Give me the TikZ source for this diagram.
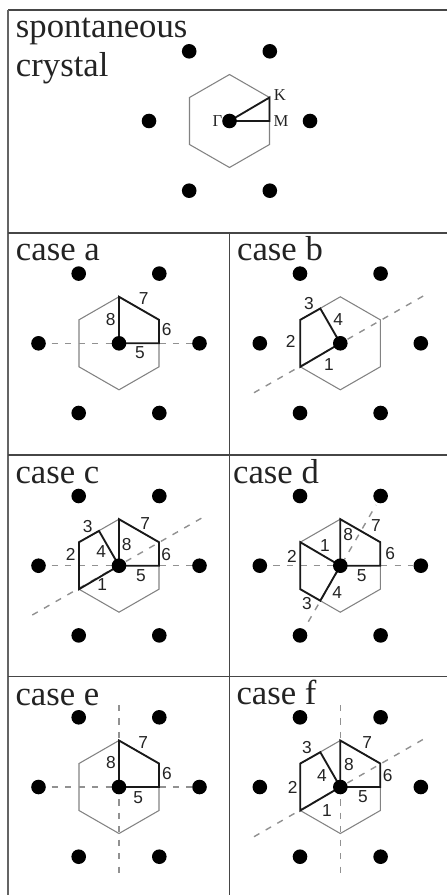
\documentclass[tikz,border=0pt]{standalone}
\usepackage{fontspec}
\setmainfont{Liberation Serif}
\setsansfont{Liberation Sans}
\tikzset{every picture/.style={line width=0.75pt}}
\tikzset{
  framerule/.style={color={rgb, 255:red, 70; green, 70; blue, 70 },line width=0.9pt},
  edgerule/.style={color={rgb, 255:red, 100; green, 100; blue, 100 },line width=1.3pt},
  zonerule/.style={color={rgb, 255:red, 130; green, 130; blue, 130 },line width=0.8pt},
  cutrule/.style={color={rgb, 255:red, 145; green, 145; blue, 145 },line width=1.05pt,dash pattern=on 4.7pt off 5.4pt},
  pathrule/.style={color={rgb, 255:red, 25; green, 25; blue, 25 },line width=1.4pt},
  latticedot/.style={fill=black},
  titlelabel/.style={anchor=base west,inner sep=0pt,color={rgb, 255:red, 35; green, 35; blue, 35 },font=\fontsize{26}{26}\selectfont},
  steplabel/.style={inner sep=0pt,color={rgb, 255:red, 35; green, 35; blue, 35 },font=\sffamily\fontsize{13}{13}\selectfont},
  pointlabel/.style={inner sep=0pt,color={rgb, 255:red, 35; green, 35; blue, 35 },font=\fontsize{12.5}{12.5}\selectfont}
}

\begin{document}
\begin{tikzpicture}[x=0.75pt,y=0.75pt,yscale=-1,xscale=1]
\useasboundingbox (0,0) rectangle (447,895);

%Frame lines
\draw [framerule]   (447,10) -- (8,10) ;
\draw [edgerule]   (8,10) -- (8,895) ;
\draw [framerule]   (8,233) -- (447,233) ;
\draw [framerule]   (8,455) -- (447,455) ;
\draw [framerule]   (8,676.5) -- (447,676.5) ;
\draw [framerule]   (229.3,233) -- (229.3,895) ;

%Spontaneous crystal
\draw [zonerule]   (229.5,74.5) -- (269.5,97.5) -- (269.5,144.5) -- (229.5,167.5) -- (189.5,144.5) -- (189.5,97.5) -- cycle ;
\draw [pathrule]   (229.5,121) -- (269.5,97.5) -- (269.5,121) -- cycle ;
\fill [latticedot] (229.5,121) circle (7.3) ;
\fill [latticedot] (189.2,51.3) circle (7.3) ;
\fill [latticedot] (269.8,51.3) circle (7.3) ;
\fill [latticedot] (149,121) circle (7.3) ;
\fill [latticedot] (310,121) circle (7.3) ;
\fill [latticedot] (189.2,190.7) circle (7.3) ;
\fill [latticedot] (269.8,190.7) circle (7.3) ;
% Text Node
\node [titlelabel] (spontaneous) at (15.5,38) {spontaneous};
% Text Node
\node [titlelabel] (crystal) at (15.5,77) {crystal};
% Text Node
\node [pointlabel] (gamma) at (217.5,121.5) {Γ};
% Text Node
\node [pointlabel] (kpoint) at (280,94.7) {K};
% Text Node
\node [pointlabel] (mpoint) at (281,121) {M};

%Case a
\draw [zonerule]   (119,296.8) -- (159,319.8) -- (159,366.8) -- (119,389.8) -- (79,366.8) -- (79,319.8) -- cycle ;
\draw [cutrule]   (51.7,343.3) -- (191.7,343.3) ;
\draw [pathrule]   (119,343.3) -- (119,296.8) -- (159,319.8) -- (159,343.3) -- cycle ;
\fill [latticedot] (119,343.3) circle (7.3) ;
\fill [latticedot] (78.7,273.6) circle (7.3) ;
\fill [latticedot] (159.3,273.6) circle (7.3) ;
\fill [latticedot] (38.5,343.3) circle (7.3) ;
\fill [latticedot] (199.5,343.3) circle (7.3) ;
\fill [latticedot] (78.7,413) circle (7.3) ;
\fill [latticedot] (159.3,413) circle (7.3) ;
% Text Node
\node [titlelabel] (casea) at (15.5,260.7) {case a};
% Text Node
\node [steplabel] (aeight) at (110.7,320) {8};
% Text Node
\node [steplabel] (aseven) at (143.7,299) {7};
% Text Node
\node [steplabel] (asix) at (166.7,330) {6};
% Text Node
\node [steplabel] (afive) at (140,352.3) {5};

%Case b
\draw [zonerule]   (340.3,296.8) -- (380.3,319.8) -- (380.3,366.8) -- (340.3,389.8) -- (300.3,366.8) -- (300.3,319.8) -- cycle ;
\draw [cutrule]   (254,392.7) -- (425,295) ;
\draw [pathrule]   (340.3,343.3) -- (300.3,366.8) -- (300.3,319.8) -- (320.3,308.5) -- cycle ;
\fill [latticedot] (340.3,343.3) circle (7.3) ;
\fill [latticedot] (300,273.6) circle (7.3) ;
\fill [latticedot] (380.6,273.6) circle (7.3) ;
\fill [latticedot] (259.8,343.3) circle (7.3) ;
\fill [latticedot] (420.8,343.3) circle (7.3) ;
\fill [latticedot] (300,413) circle (7.3) ;
\fill [latticedot] (380.6,413) circle (7.3) ;
% Text Node
\node [titlelabel] (caseb) at (236.7,260.7) {case b};
% Text Node
\node [steplabel] (bthree) at (309,303.7) {3};
% Text Node
\node [steplabel] (bfour) at (338.3,319.3) {4};
% Text Node
\node [steplabel] (btwo) at (290.7,341.7) {2};
% Text Node
\node [steplabel] (bone) at (329,364.3) {1};

%Case c
\draw [zonerule]   (119,519.2) -- (159,542.2) -- (159,589.2) -- (119,612.2) -- (79,589.2) -- (79,542.2) -- cycle ;
\draw [cutrule]   (51.7,565.7) -- (191.7,565.7) ;
\draw [cutrule]   (32.3,615) -- (204,516.7) ;
\draw [pathrule]   (119,565.7) -- (79,589.2) -- (79,542.2) -- (99,530.9) -- cycle ;
\draw [pathrule]   (119,565.7) -- (119,519.2) -- (159,542.2) -- (159,565.7) -- cycle ;
\fill [latticedot] (119,565.7) circle (7.3) ;
\fill [latticedot] (78.7,496) circle (7.3) ;
\fill [latticedot] (159.3,496) circle (7.3) ;
\fill [latticedot] (38.5,565.7) circle (7.3) ;
\fill [latticedot] (199.5,565.7) circle (7.3) ;
\fill [latticedot] (78.7,635.4) circle (7.3) ;
\fill [latticedot] (159.3,635.4) circle (7.3) ;
% Text Node
\node [titlelabel] (casec) at (15,483.3) {case c};
% Text Node
\node [steplabel] (cthree) at (87.7,526.7) {3};
% Text Node
\node [steplabel] (cseven) at (145.3,523.3) {7};
% Text Node
\node [steplabel] (ceight) at (126.7,544.3) {8};
% Text Node
\node [steplabel] (cfour) at (101.3,551.7) {4};
% Text Node
\node [steplabel] (ctwo) at (70.7,554.3) {2};
% Text Node
\node [steplabel] (csix) at (166.3,554.3) {6};
% Text Node
\node [steplabel] (cfive) at (141,575.7) {5};
% Text Node
\node [steplabel] (cone) at (102.3,585) {1};

%Case d
\draw [zonerule]   (340.3,519.2) -- (380.3,542.2) -- (380.3,589.2) -- (340.3,612.2) -- (300.3,589.2) -- (300.3,542.2) -- cycle ;
\draw [cutrule]   (273.3,565.7) -- (413.3,565.7) ;
\draw [cutrule]   (308.3,621.7) -- (376,505) ;
\draw [pathrule]   (340.3,565.7) -- (300.3,542.2) -- (300.3,589.2) -- (320.3,600.7) -- cycle ;
\draw [pathrule]   (340.3,565.7) -- (340.3,519.2) -- (380.3,542.2) -- (380.3,565.7) -- cycle ;
\fill [latticedot] (340.3,565.7) circle (7.3) ;
\fill [latticedot] (300,496) circle (7.3) ;
\fill [latticedot] (380.6,496) circle (7.3) ;
\fill [latticedot] (259.8,565.7) circle (7.3) ;
\fill [latticedot] (420.8,565.7) circle (7.3) ;
\fill [latticedot] (300,635.4) circle (7.3) ;
\fill [latticedot] (380.6,635.4) circle (7.3) ;
% Text Node
\node [titlelabel] (cased) at (232.7,483.3) {case d};
% Text Node
\node [steplabel] (deight) at (348.3,535) {8};
% Text Node
\node [steplabel] (dseven) at (376,526) {7};
% Text Node
\node [steplabel] (dsix) at (390.3,553.3) {6};
% Text Node
\node [steplabel] (dfive) at (361.7,575.7) {5};
% Text Node
\node [steplabel] (dfour) at (337.3,592.7) {4};
% Text Node
\node [steplabel] (dthree) at (307,603.3) {3};
% Text Node
\node [steplabel] (dtwo) at (292,556) {2};
% Text Node
\node [steplabel] (done) at (325,546) {1};

%Case e
\draw [zonerule]   (119,740.5) -- (159,763.5) -- (159,810.5) -- (119,833.5) -- (79,810.5) -- (79,763.5) -- cycle ;
\draw [cutrule]   (51.7,787) -- (191.7,787) ;
\draw [cutrule]   (119,705) -- (119,876) ;
\draw [pathrule]   (119,787) -- (119,740.5) -- (159,763.5) -- (159,787) -- cycle ;
\fill [latticedot] (119,787) circle (7.3) ;
\fill [latticedot] (78.7,717.3) circle (7.3) ;
\fill [latticedot] (159.3,717.3) circle (7.3) ;
\fill [latticedot] (38.5,787) circle (7.3) ;
\fill [latticedot] (199.5,787) circle (7.3) ;
\fill [latticedot] (78.7,856.7) circle (7.3) ;
\fill [latticedot] (159.3,856.7) circle (7.3) ;
% Text Node
\node [titlelabel] (casee) at (15,705) {case e};
% Text Node
\node [steplabel] (eeight) at (111,762.3) {8};
% Text Node
\node [steplabel] (eseven) at (143.3,742.3) {7};
% Text Node
\node [steplabel] (esix) at (167,774) {6};
% Text Node
\node [steplabel] (efive) at (138.3,797.3) {5};

%Case f
\draw [zonerule]   (340.3,740.5) -- (380.3,763.5) -- (380.3,810.5) -- (340.3,833.5) -- (300.3,810.5) -- (300.3,763.5) -- cycle ;
\draw [cutrule]   (340.3,705) -- (340.3,876) ;
\draw [cutrule]   (254,836.7) -- (425,738.3) ;
\draw [pathrule]   (340.3,787) -- (300.3,810.5) -- (300.3,763.5) -- (320.3,752.2) -- cycle ;
\draw [pathrule]   (340.3,787) -- (340.3,740.5) -- (380.3,763.5) -- (380.3,787) -- cycle ;
\fill [latticedot] (340.3,787) circle (7.3) ;
\fill [latticedot] (300,717.3) circle (7.3) ;
\fill [latticedot] (380.6,717.3) circle (7.3) ;
\fill [latticedot] (259.8,787) circle (7.3) ;
\fill [latticedot] (420.8,787) circle (7.3) ;
\fill [latticedot] (300,856.7) circle (7.3) ;
\fill [latticedot] (380.6,856.7) circle (7.3) ;
% Text Node
\node [titlelabel] (casef) at (236,704.3) {case f};
% Text Node
\node [steplabel] (fthree) at (307,747.7) {3};
% Text Node
\node [steplabel] (fseven) at (367.3,742.7) {7};
% Text Node
\node [steplabel] (feight) at (349,764.7) {8};
% Text Node
\node [steplabel] (ffour) at (322,775.7) {4};
% Text Node
\node [steplabel] (ftwo) at (292.7,787.3) {2};
% Text Node
\node [steplabel] (fsix) at (387.7,776) {6};
% Text Node
\node [steplabel] (ffive) at (363,796.7) {5};
% Text Node
\node [steplabel] (fone) at (327,810.7) {1};

\end{tikzpicture}
\end{document}
